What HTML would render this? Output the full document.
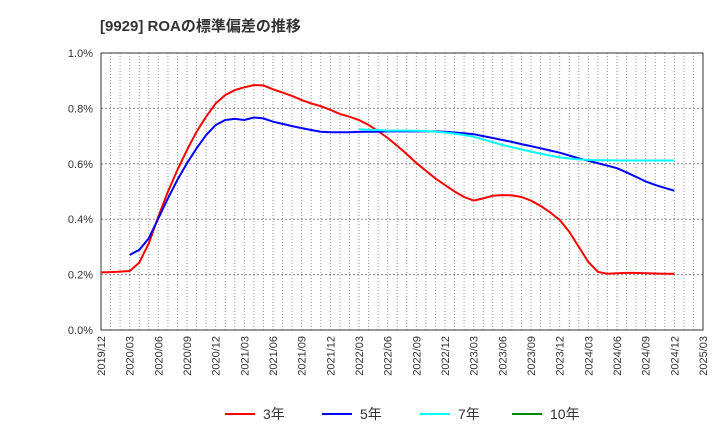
<!DOCTYPE html>
<html><head><meta charset="utf-8"><style>
body{margin:0;background:#fff;font-family:"Liberation Sans","Noto Sans CJK JP",sans-serif;}
</style></head><body>
<svg width="720" height="440" xmlns="http://www.w3.org/2000/svg" font-family="Liberation Sans, Noto Sans CJK JP, sans-serif">
<text x="100" y="31" font-size="15" font-weight="bold" fill="#333">[9929]  ROAの標準偏差の推移</text>
<g id="grid"></g><g id="axes"></g><g id="series"></g><g id="legend"></g>
</svg>
<script>
const xLabels=["2019/12","2020/03","2020/06","2020/09","2020/12","2021/03","2021/06","2021/09","2021/12","2022/03","2022/06","2022/09","2022/12","2023/03","2023/06","2023/09","2023/12","2024/03","2024/06","2024/09","2024/12","2025/03"];
const yTicks=[0,0.2,0.4,0.6,0.8,1.0];
const s3=[0.208,0.209,0.211,0.213,0.243,0.313,0.409,0.499,0.578,0.65,0.716,0.77,0.818,0.848,0.866,0.876,0.884,0.883,0.869,0.857,0.845,0.83,0.818,0.808,0.795,0.78,0.77,0.758,0.74,0.718,0.693,0.665,0.635,0.603,0.575,0.547,0.523,0.5,0.48,0.467,0.475,0.485,0.487,0.486,0.48,0.467,0.448,0.425,0.397,0.355,0.30,0.246,0.21,0.203,0.205,0.206,0.206,0.205,0.204,0.203,0.203];
const s5=[null,null,null,0.271,0.289,0.331,0.403,0.475,0.542,0.602,0.656,0.704,0.74,0.758,0.762,0.758,0.767,0.764,0.752,0.744,0.736,0.729,0.722,0.716,0.714,0.714,0.714,0.715,0.716,0.716,0.717,0.717,0.717,0.717,0.717,0.717,0.716,0.713,0.71,0.707,0.7,0.693,0.686,0.679,0.671,0.664,0.656,0.648,0.64,0.63,0.62,0.611,0.602,0.593,0.584,0.569,0.553,0.536,0.524,0.513,0.503];
const s7=[null,null,null,null,null,null,null,null,null,null,null,null,null,null,null,null,null,null,null,null,null,null,null,null,null,null,null,0.725,0.723,0.722,0.72,0.72,0.72,0.719,0.718,0.716,0.713,0.709,0.704,0.698,0.688,0.678,0.668,0.66,0.652,0.644,0.637,0.63,0.623,0.619,0.616,0.614,0.613,0.613,0.612,0.612,0.612,0.612,0.612,0.612,0.612];
const s10=[];
const NS="http://www.w3.org/2000/svg";
const L=101,R=703,T=53,B=330;
const xm=i=>L+i*(R-L)/63;
const yv=v=>B-v*(B-T);
function mk(tag,attrs,parent){const e=document.createElementNS(NS,tag);for(const k in attrs)e.setAttribute(k,attrs[k]);parent.appendChild(e);return e;}
const grid=document.getElementById('grid'),axes=document.getElementById('axes'),ser=document.getElementById('series'),leg=document.getElementById('legend');
for(let i=1;i<63;i++){const g=mk('line',{x1:xm(i),x2:xm(i),y1:T,y2:B,stroke:'#999','stroke-dasharray':'1,2','stroke-width':1},grid);

}
yTicks.forEach(v=>{const g=mk('line',{x1:L,x2:R,y1:yv(v),y2:yv(v),stroke:'#888','stroke-dasharray':'2,2','stroke-width':1},grid);


const t=mk('text',{x:L-8,y:yv(v)+4,'text-anchor':'end','font-size':11,fill:'#333'},axes);t.textContent=v.toFixed(1)+'%';

});
const fr=mk('rect',{x:L,y:T,width:R-L,height:B-T,fill:'none',stroke:'#333','stroke-width':1},axes);


xLabels.forEach((s,i)=>{const x=xm(i*3);const t=mk('text',{transform:`translate(${x+4},${B+6}) rotate(-90)`,'text-anchor':'end','font-size':11,fill:'#333'},axes);t.textContent=s;

});
function line(data,color,name){let d='';let started=false;data.forEach((v,i)=>{if(v==null)return;d+=(started?'L':'M')+xm(i).toFixed(1)+','+yv(v).toFixed(1);started=true;});
if(!d)return;const p=mk('path',{d:d,fill:'none',stroke:color,'stroke-width':2},ser);

}
line(s3,'#f00','series-3y');line(s5,'#00f','series-5y');line(s7,'#0ff','series-7y');line(s10,'#080','series-10y');
const items=[['3年','#f00',225],['5年','#00f',322],['7年','#0ff',420],['10年','#080',512]];
items.forEach(([lab,c,x])=>{const g=mk('g',{},leg);


mk('line',{x1:x,x2:x+30,y1:414,y2:414,stroke:c,'stroke-width':2},g);
const t=mk('text',{x:x+38,y:419,'font-size':14,fill:'#333'},g);t.textContent=lab;});
</script>
</body></html>
